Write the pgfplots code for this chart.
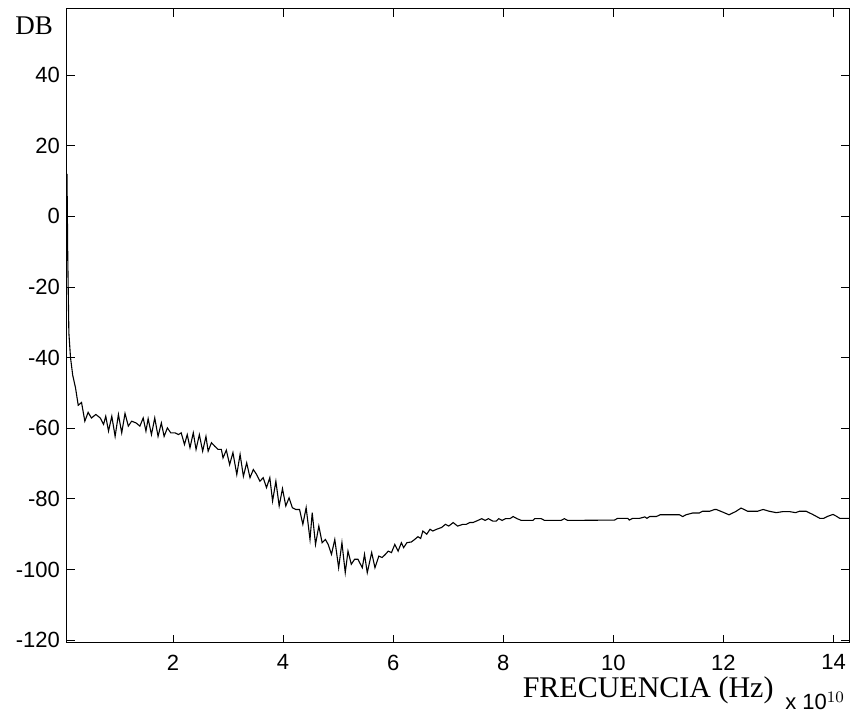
\documentclass[border=0pt]{standalone}
\usepackage{fontspec}
\setmainfont{Liberation Sans}
\newfontfamily\serif{Liberation Serif}
\usepackage{pgfplots}
\pgfplotsset{compat=1.18}
\begin{document}
\begin{tikzpicture}
\begin{axis}[
 name=a,
 at={(0,0)}, anchor=south west,
 scale only axis, width=391pt, height=317pt,
 xmin=0.076, xmax=14.28, ymin=-120.8, ymax=58.7,
 xtick={2,4,...,14}, ytick={-120,-100,...,40},
 tick align=inside, major tick length=4pt,
 axis line style={line width=0.5pt},
 every tick/.style={black, line width=0.4pt},
 tick label style={font=\fontsize{11}{13}\selectfont},
 /pgf/number format/assume math mode=true,
 xticklabel style={yshift=-2.3pt},
]
\addplot[black, line width=0.55pt] table {
x y
0.076 12
0.09 -12
0.11 -33
0.14 -40
0.18 -45
0.23 -48.5
0.28 -53.5
0.34 -52.7
0.40 -58.0
0.46 -55.5
0.52 -57.1
0.60 -56.1
0.68 -57.1
0.74 -58.9
0.78 -56.6
0.83 -60.8
0.89 -56.6
0.95 -62.3
1.01 -56.1
1.07 -61.3
1.13 -55.8
1.19 -59.4
1.25 -58.0
1.33 -58.5
1.40 -59.4
1.46 -57.1
1.51 -60.8
1.55 -57.3
1.61 -61.8
1.67 -57.1
1.73 -62.3
1.79 -58.5
1.84 -62.3
1.90 -59.9
1.96 -61.3
2.04 -61.3
2.10 -61.8
2.15 -61.3
2.21 -64.6
2.26 -61.8
2.31 -65.5
2.37 -61.3
2.42 -66.0
2.48 -61.8
2.54 -66.5
2.60 -62.3
2.64 -66.5
2.70 -64.1
2.76 -65.1
2.82 -66.0
2.88 -66.0
2.91 -68.4
2.97 -66.2
3.03 -70.3
3.09 -66.9
3.16 -73.1
3.22 -67.4
3.28 -73.6
3.34 -69.8
3.40 -74.0
3.46 -71.7
3.52 -73.1
3.58 -75.0
3.64 -74.0
3.70 -76.8
3.76 -74.0
3.81 -80.6
3.87 -75.0
3.93 -82.0
3.99 -77.1
4.05 -82.0
4.11 -79.7
4.17 -82.5
4.23 -83.0
4.30 -83.0
4.36 -87.2
4.42 -82.5
4.49 -91.5
4.53 -83.9
4.59 -92.9
4.65 -87.7
4.71 -92.4
4.77 -91.5
4.82 -92.9
4.88 -95.7
4.94 -91.5
5.01 -99.5
5.07 -92.4
5.13 -100.9
5.18 -94.8
5.24 -98.5
5.30 -97.1
5.36 -97.1
5.44 -99.5
5.48 -95.7
5.53 -100.9
5.61 -95.2
5.67 -99.5
5.74 -96.2
5.80 -96.6
5.86 -95.7
5.91 -94.8
5.97 -95.2
6.03 -92.9
6.09 -94.8
6.15 -92.4
6.19 -93.8
6.25 -92.4
6.33 -92.2
6.39 -91.5
6.45 -90.7
6.50 -91.2
6.54 -89.1
6.61 -90.0
6.67 -88.6
6.72 -89.1
6.79 -88.6
6.88 -88.1
6.95 -87.2
7.01 -87.7
7.09 -86.7
7.17 -87.7
7.27 -87.2
7.33 -87.2
7.39 -86.7
7.45 -86.7
7.51 -86.3
7.61 -85.6
7.67 -86.1
7.73 -85.6
7.81 -86.3
7.87 -86.3
7.92 -85.6
7.98 -86.1
8.04 -85.6
8.12 -85.6
8.18 -85.0
8.25 -85.6
8.33 -86.1
8.54 -86.1
8.57 -85.6
8.69 -85.6
8.75 -86.1
9.05 -86.1
9.11 -85.6
9.17 -86.1
10.02 -86.0
10.08 -85.5
10.26 -85.5
10.29 -86.0
10.35 -85.5
10.48 -85.5
10.57 -85.1
10.61 -85.5
10.66 -85.0
10.78 -85.0
10.85 -84.5
11.20 -84.5
11.26 -85.0
11.32 -84.5
11.44 -84.0
11.56 -84.0
11.62 -83.5
11.75 -83.5
11.84 -83.0
11.87 -83.0
11.98 -83.7
12.10 -84.5
12.22 -83.6
12.32 -82.6
12.44 -83.5
12.62 -83.5
12.72 -83.0
12.83 -83.5
12.96 -83.9
13.08 -83.6
13.20 -83.6
13.31 -83.9
13.38 -83.5
13.50 -83.5
13.62 -84.4
13.75 -85.5
13.82 -85.5
13.90 -84.9
13.99 -84.4
14.05 -84.9
14.11 -85.5
14.28 -85.5
};
\end{axis}
\node[anchor=base east, inner sep=0pt, font=\serif\fontsize{15}{18}\selectfont] at ([xshift=353.5pt,yshift=-27.5pt]a.south west) {FRECUENCIA (Hz)};
\node[anchor=base west, inner sep=0pt, font=\fontsize{11}{13}\selectfont] at ([xshift=359pt,yshift=-33.5pt]a.south west) {x 10$^{10}$};
\node[anchor=base west, inner sep=0pt, font=\serif\fontsize{13.5}{16}\selectfont] at ([xshift=-26pt,yshift=304pt]a.south west) {DB};
\pgfresetboundingbox
\path[use as bounding box] ([xshift=-33.5pt,yshift=-39pt]a.south west) rectangle ([xshift=393pt,yshift=321.5pt]a.south west);
\end{tikzpicture}
\end{document}
